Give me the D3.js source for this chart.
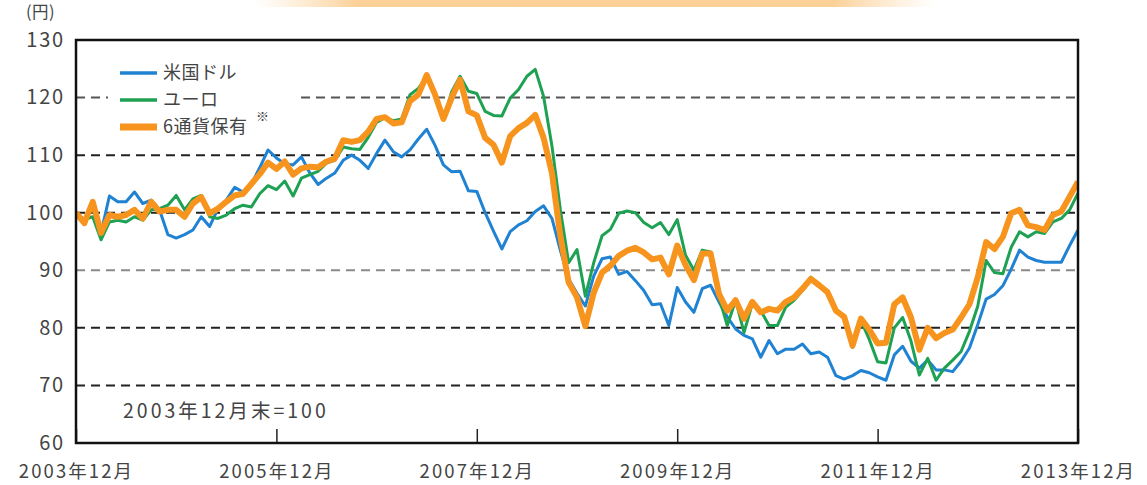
<!DOCTYPE html>
<html>
<head>
<meta charset="utf-8">
<script src="https://cdn.jsdelivr.net/npm/d3@7"></script>
<style>
body{margin:0;background:#fff;}
text{font-family:"Noto Sans CJK JP","Noto Sans",sans-serif;fill:#444;}
</style>
</head>
<body>
<div class="Chart"></div>
<script>
// 2003年12月末=100, monthly from 2003/12 to 2013/12
const usd=[100,98.5,101,96.5,102.9,101.9,101.9,103.6,101.6,102.2,100.5,96.2,95.6,96.2,97,99.3,97.6,100.7,102.2,104.4,
103.6,105,107.8,110.9,109.5,108.5,108.3,109.7,106.9,104.9,106,106.9,109.1,110,109.1,107.7,110.3,112.6,110.6,109.7,
110.9,112.8,114.5,111.7,108.3,107.1,107.2,103.8,103.7,100,96.8,93.7,96.7,97.9,98.6,100.2,101.2,99,93.5,88.5,
86,83.8,89,92,92.3,89.3,89.8,88.2,86.5,84,84.2,80.4,87,84.5,82.7,86.8,87.4,84.5,81.9,79.8,
78.7,78.1,74.9,77.8,75.5,76.3,76.3,77.2,75.5,75.8,74.9,71.7,71.1,71.7,72.6,72.2,71.5,70.9,75.3,76.8,
74.2,73,74.4,72.7,72.7,72.4,74.2,76.5,80.6,85,85.8,87.3,90.2,93.5,92.3,91.7,91.4,91.4,91.4,94.3,97]

const eur=[100,98.8,99.3,95.3,98.4,98.7,98.4,99.3,98.7,100.5,100.7,101.3,103,100.5,102.4,103,99.3,99,99.6,100.7,
101.3,101,103.3,104.7,104,105.5,102.9,106,106.6,107.2,108.6,109.1,111.4,111.1,111,113.1,115.7,116.5,116,116.3,
120.5,121.6,123.6,120.5,116.3,121,123.7,121.1,120.7,117.6,116.9,116.8,119.9,121.4,123.7,124.9,120.2,111.6,100.6,91.3,
93.6,85.5,91.3,96,97.1,99.9,100.3,100,98.3,97.4,98.3,96.2,98.8,92.6,90,93.5,93.2,85.3,80.4,84.8,
79.2,84.2,83,80.4,80.4,83.6,84.8,86.5,88.8,87.4,86.2,83,81.6,76.6,81.3,78,74.1,73.9,80,81.8,
77.7,71.8,74.7,70.9,73,74.4,75.9,79.4,83.8,91.7,89.6,89.4,94,96.7,95.8,96.7,96.4,98.4,99,100.5,103.4]

const six=[100,98.2,101.9,96.5,99.6,99.3,99.6,100.5,99,101.9,100.2,100.5,100.5,99.3,101.6,102.7,99.9,100.7,101.9,103,
103.3,105,106.7,108.7,107.6,108.9,106.6,107.7,108,107.9,108.9,109.4,112.6,112.3,112.6,114.1,116.3,116.6,115.5,115.7,
119.4,120.5,123.9,120.5,116.3,120,123.1,117.6,116.9,113,111.8,108.7,113.3,114.7,115.6,117,113,106.9,96,87.9,
85.3,80.3,86.1,89.6,90.8,92.5,93.4,93.9,93.1,91.9,92.2,89.3,94.3,90.9,88.3,92.9,92.9,85.9,83,84.8,
81.6,84.5,82.7,83.3,83,84.5,85.3,86.8,88.5,87.4,86.2,83,81.9,76.9,81.6,79.7,77.3,77.4,84.1,85.3,
81.8,76.2,80,78.2,79.1,79.7,81.8,84.1,88.8,94.9,93.7,95.8,99.9,100.5,97.8,97.5,97,99.6,100.2,102.8,105.4]

const seriesNames=['米国ドル','ユーロ','6通貨保有']
const seriesColors=['#1f82d2','#1ea152','#f7941d']
const seriesWidths=[3,3,6]

const yTicks=[60,70,80,90,100,110,120,130]
const gridColors={70:'#222',80:'#222',90:'#8a8a8a',100:'#222',110:'#222',120:'#555'}
const xTickMonths=[0,24,48,72,96,120]
const xTickLabels=['2003年12月','2005年12月','2007年12月','2009年12月','2011年12月','2013年12月']

const margin=({top:40,right:69,bottom:42,left:76})
const W=1147,H=485
const width=W-margin.left-margin.right,
      height=H-margin.top-margin.bottom

let root=d3.select('.Chart').append('svg')
  .attr('width',W)
  .attr('height',H)

// faded banner at top
let grad=root.append('defs').append('linearGradient')
  .attr('id','band').attr('x1','0').attr('x2','1')
grad.append('stop').attr('offset','0%').attr('stop-color','#fbd39a').attr('stop-opacity',0)
grad.append('stop').attr('offset','15%').attr('stop-color','#fbc57e').attr('stop-opacity',0.8)
grad.append('stop').attr('offset','85%').attr('stop-color','#fbc57e').attr('stop-opacity',0.8)
grad.append('stop').attr('offset','100%').attr('stop-color','#fbd39a').attr('stop-opacity',0)
root.append('rect').attr('x',255).attr('y',0).attr('width',680).attr('height',7).attr('fill','url(#band)')

let svg=root.append('g')
  .attr('transform','translate('+margin.left+','+margin.top+')')

let xScale=d3.scaleLinear().domain([0,120]).range([0,width])
let yScale=d3.scaleLinear().domain([60,130]).range([height,0])

// grid
svg.selectAll('.grid')
  .data(yTicks.filter(d=>d>60&&d<130))
  .enter().append('line')
  .attr('class','grid')
  .attr('x1',0).attr('x2',width)
  .attr('y1',d=>yScale(d)).attr('y2',d=>yScale(d))
  .attr('stroke',d=>gridColors[d])
  .attr('stroke-width',2)
  .attr('stroke-dasharray','9,6')

// y axis labels
let yAxis=d3.axisLeft(yScale).tickValues(yTicks).tickSize(0).tickPadding(11)
let gy=svg.append('g').call(yAxis)
gy.select('.domain').remove()
gy.selectAll('text').attr('font-size',20).attr('letter-spacing','1.8px').attr('fill','#444')

svg.append('text')
  .attr('x',-50).attr('y',-22)
  .attr('font-size',16.5).attr('letter-spacing','0.5px')
  .text('(円)')

// x axis with short upward ticks
let xAxis=d3.axisBottom(xScale).tickValues(xTickMonths)
  .tickFormat((d,i)=>xTickLabels[i])
  .tickSizeInner(-14).tickSizeOuter(0).tickPadding(22)
let gx=svg.append('g').attr('transform',`translate(0,${height})`).call(xAxis)
gx.select('.domain').remove()
gx.selectAll('line').attr('stroke','#222').attr('stroke-width',1.5)
gx.selectAll('text').attr('font-size',18.5).attr('letter-spacing','2.1px').attr('fill','#444')

// lines
let line=d3.line()
  .x((d,i)=>xScale(i))
  .y(d=>yScale(d))
  .curve(d3.curveLinear)

let clip=svg.append('clipPath').attr('id','plotClip')
clip.append('rect').attr('width',width).attr('height',height)

svg.append('g').attr('clip-path','url(#plotClip)')
  .selectAll('.lineChart')
  .data([usd,eur,six])
  .enter().append('path')
  .attr('class','lineChart')
  .attr('d',line)
  .attr('fill','none')
  .attr('stroke',(d,i)=>seriesColors[i])
  .attr('stroke-width',(d,i)=>seriesWidths[i])
  .attr('stroke-linejoin','round')

// frame
svg.append('rect')
  .attr('width',width).attr('height',height)
  .attr('fill','none').attr('stroke','#111').attr('stroke-width',2.5)

// legend
let legend=svg.append('g').attr('transform','translate(32,15)')
legend.append('rect').attr('x',0).attr('y',0).attr('width',188).attr('height',88).attr('fill','#fff')
seriesNames.forEach((name,i)=>{
  let yy=18+i*27
  legend.append('line')
    .attr('x1',12).attr('x2',49).attr('y1',yy).attr('y2',yy)
    .attr('stroke',seriesColors[i]).attr('stroke-width',i==2?7:3.5)
  legend.append('text')
    .attr('x',55).attr('y',yy).attr('dy','0.36em')
    .attr('font-size',18).attr('letter-spacing','0.5px')
    .text(name)
})
legend.append('text').attr('x',148).attr('y',66).attr('font-size',13).text('※')

svg.append('text')
  .attr('x',47).attr('y',371).attr('dy','0.36em')
  .attr('font-size',19.5).attr('letter-spacing','3px')
  .text('2003年12月末=100')
</script>
</body>
</html>
